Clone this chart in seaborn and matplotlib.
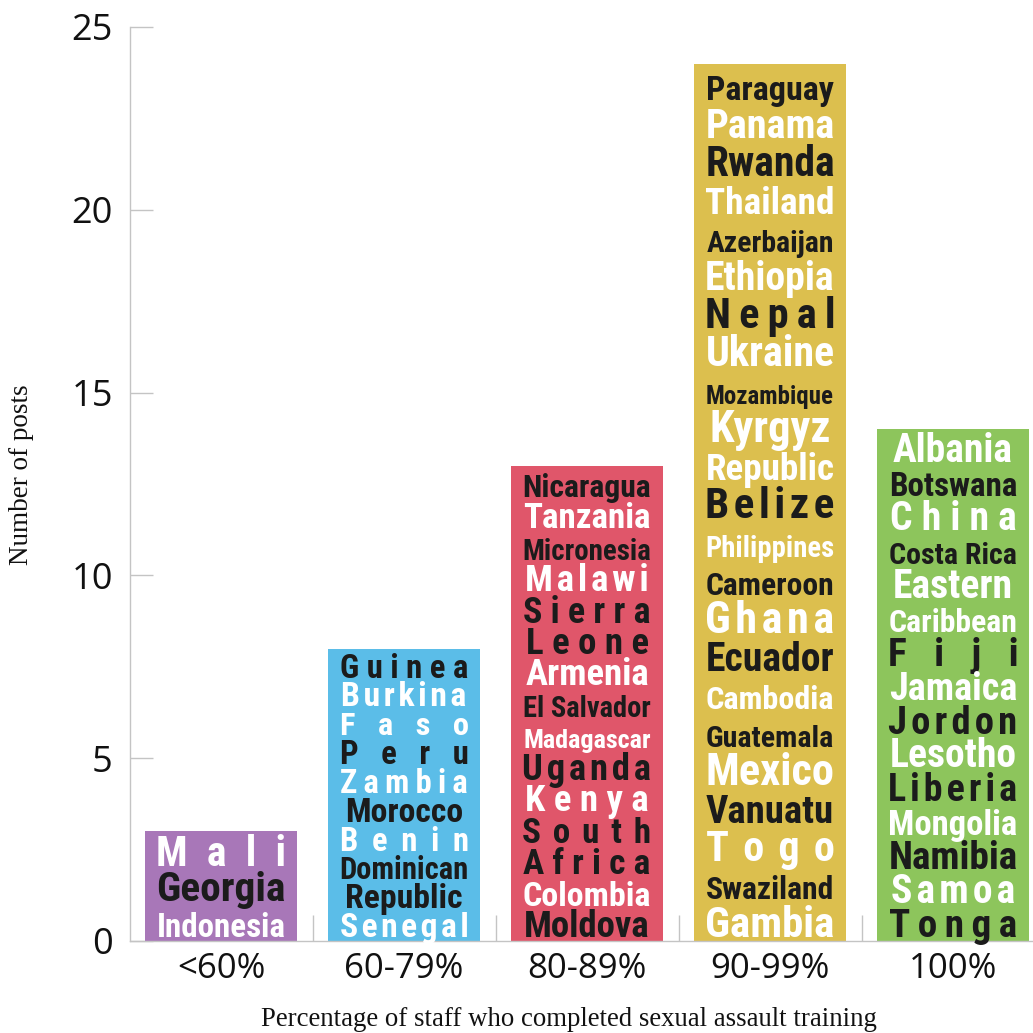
import matplotlib
matplotlib.use("Agg")
import numpy as np
import pandas as pd
import matplotlib.pyplot as plt
import seaborn as sns
from matplotlib import font_manager
from matplotlib.font_manager import FontProperties
from matplotlib.textpath import TextPath
from matplotlib.ft2font import FT2Font

# Posts grouped by share of staff who completed sexual assault training
categories = ["<60%", "60-79%", "80-89%", "90-99%", "100%"]
posts = [3, 8, 13, 24, 14]
bar_colors = ["#a877b8", "#5bbde8", "#e0566a", "#dcbf4e", "#8dc55c"]

# Country names written inside each bar ("\n" marks where a name wraps)
countries_lt60 = ["Mali", "Georgia", "Indonesia"]
countries_60_79 = ["Guinea", "Burkina\nFaso", "Peru", "Zambia", "Morocco", "Benin",
                   "Dominican\nRepublic", "Senegal"]
countries_80_89 = ["Nicaragua", "Tanzania", "Micronesia", "Malawi", "Sierra\nLeone",
                   "Armenia", "El Salvador", "Madagascar", "Uganda", "Kenya",
                   "South\nAfrica", "Colombia", "Moldova"]
countries_90_99 = ["Paraguay", "Panama", "Rwanda", "Thailand", "Azerbaijan", "Ethiopia",
                   "Nepal", "Ukraine", "Mozambique", "Kyrgyz\nRepublic", "Belize",
                   "Philippines", "Cameroon", "Ghana", "Ecuador", "Cambodia", "Guatemala",
                   "Mexico", "Vanuatu", "Togo", "Swaziland", "Gambia"]
countries_100 = ["Albania", "Botswana", "China", "Costa Rica", "Eastern\nCaribbean", "Fiji",
                 "Jamaica", "Jordon", "Lesotho", "Liberia", "Mongolia", "Namibia",
                 "Samoa", "Tonga"]
country_lists = [countries_lt60, countries_60_79, countries_80_89,
                 countries_90_99, countries_100]
first_name_white = [True, False, False, False, True]


def pick_condensed_bold():
    """Path of the narrowest heavy sans face that is installed."""
    wanted = ["notosans-extracondensedbold.", "notosans-extracondensedextrabold.",
              "liberationsansnarrow-bold.", "notosans-condensedbold.",
              "robotocondensed-bold.", "roboto_condensed-bold.",
              "dejavusanscondensed-bold."]
    paths = [f.fname for f in font_manager.fontManager.ttflist]
    for key in wanted:
        for p in paths:
            if key in p.lower().replace(" ", ""):
                return p
    return font_manager.findfont(FontProperties(family="DejaVu Sans", weight="bold"))


sns.set_style("white")
plt.rcParams["font.family"] = ["Open Sans", "DejaVu Sans"]

W_PX = H_PX = 1033
fig = plt.figure(figsize=(W_PX / 100, H_PX / 100), dpi=100)
ax = fig.add_axes([129.5 / W_PX, 92 / H_PX, 915 / W_PX, 914 / H_PX])

df = pd.DataFrame({"range": categories, "posts": posts})
sns.barplot(data=df, x="range", y="posts", hue="range", order=categories,
            hue_order=categories, palette=bar_colors, width=0.83, saturation=1,
            legend=False, edgecolor="none", linewidth=0, ax=ax)

ax.set_xlim(-0.5, 4.5)
ax.set_ylim(0, 25)
ax.set_yticks(range(0, 26, 5))
axis_grey = "#c4c4c4"
ax.tick_params(axis="y", left=True, direction="in", length=16.5, width=1,
               color=axis_grey, labelsize=26, pad=12, labelcolor="#111111")
ax.tick_params(axis="x", which="major", bottom=False, length=0, labelsize=25, pad=8,
               labelcolor="#111111")
ax.set_xticks([0.5, 1.5, 2.5, 3.5], minor=True)
ax.tick_params(axis="x", which="minor", bottom=True, direction="in", length=19,
               width=1, color=axis_grey)
for side in ["top", "right"]:
    ax.spines[side].set_visible(False)
for side in ["left", "bottom"]:
    ax.spines[side].set_color(axis_grey)
    ax.spines[side].set_linewidth(1)

ax.set_xlabel("Percentage of staff who completed sexual assault training",
              family="Liberation Serif", fontsize=19.3, color="#111111")
ax.set_ylabel("Number of posts", family="Liberation Serif", fontsize=19.5,
              color="#111111")
ax.xaxis.set_label_coords((569 - 129.5) / 915, (941 - 1020) / 914)
ax.xaxis.label.set_va("center")
ax.yaxis.set_label_coords((22 - 129.5) / 915, (941 - 475) / 914)
ax.yaxis.label.set_va("center")

# Country names stacked inside each bar, alternating white / near-black,
# letter-spaced so that each line spans the bar
name_path = pick_condensed_bold()
name_fp = FontProperties(fname=name_path)
face = FT2Font(name_path)
has_thin = face.get_char_index(0x2009) != 0 and face.get_char_index(0x200A) != 0
separators = ["", " ", "  ", "   ", "    ", "     "]
if has_thin:
    separators = ["", "\u200a", "\u2009", " ", " \u200a", " \u2009", "  ", "  \u2009",
                  "   ", "   \u2009", "    ", "     ", "      "]

cap_em = TextPath((0, 0), "H", size=1, prop=name_fp).get_extents().height


def ink_width(s, size_px):
    return TextPath((0, 0), s, size=size_px, prop=name_fp).get_extents().width


to_px = ax.transData
to_data = ax.transData.inverted()
ink = "#1b1b1b"
pt_per_px = 72 / fig.dpi

bars = sorted([p for p in ax.patches if p.get_height() > 0], key=lambda p: p.get_x())
for bar, names, white_first in zip(bars, country_lists, first_name_white):
    x0, y0 = to_px.transform((bar.get_x(), 0))
    x1, y1 = to_px.transform((bar.get_x() + bar.get_width(), bar.get_height()))
    rows = []
    for k, name in enumerate(names):
        color = "white" if (k % 2 == 0) == white_first else ink
        for part in name.split("\n"):
            rows.append((part, color))
    n = len(rows)
    fill = 0.8
    pitch = ((y1 - y0) - 10) / (n - 1 + fill)
    cap_px = fill * pitch
    size_px = cap_px / cap_em
    target_w = (x1 - x0) - 26
    xc = (x0 + x1) / 2
    for i, (part, color) in enumerate(rows):
        base_px = y1 - 6 - i * pitch - cap_px
        chosen, chosen_w = part, ink_width(part, size_px)
        for sep in separators[1:]:
            s = sep.join(part)
            w = ink_width(s, size_px)
            if w <= target_w * 1.02:
                chosen, chosen_w = s, w
            else:
                break
        scale = min(target_w / chosen_w, 1.04)
        xd, yd = to_data.transform((xc, base_px))
        ax.text(xd, yd, chosen, ha="center", va="baseline", color=color,
                fontproperties=name_fp, fontsize=size_px * scale * pt_per_px)

fig.savefig("out.png", dpi=100, facecolor="white")
